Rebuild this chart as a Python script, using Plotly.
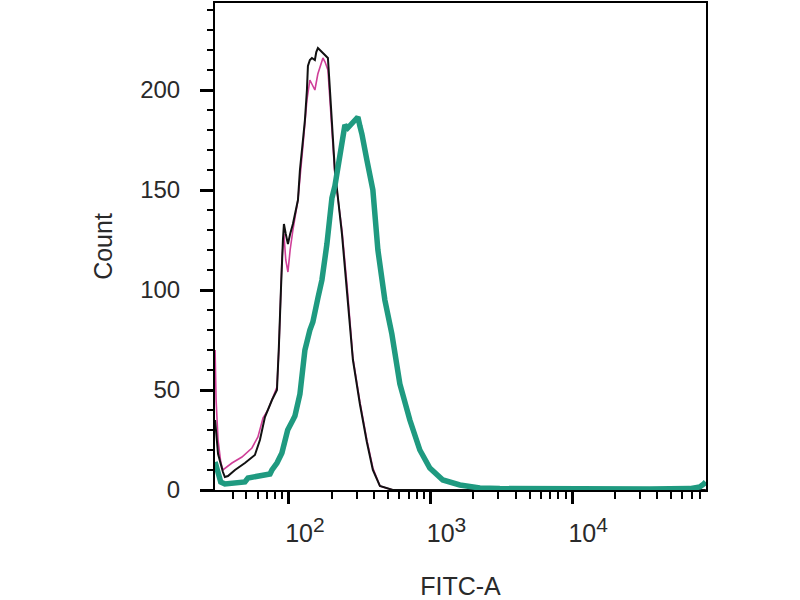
import plotly.graph_objects as go

# FITC-A values and counts
black_x = [30.1, 31.6, 34.2, 35.3, 37.1, 41.6, 48.9, 54.8, 57.5, 62.4, 67.7, 75.9, 82.3, 84.9, 86.4,
           87.8, 90.7, 92.2, 95.0, 98.4, 102.0, 106.7, 115.8, 119.6, 125.6, 129.7, 134.0, 136.2, 140.6,
           145.3, 152.5, 156.0, 160.2, 165.5, 173.8, 179.6, 188.5, 194.8, 211.0, 236.8, 256.8, 283.0,
           317.0, 355.0, 391.5, 438.9, 541.9, 1000, 10000, 87700]
black_y = [35, 18, 9, 6.5, 7, 10, 13.5, 16, 17.5, 25, 36.5, 45, 50, 71.5, 90,
           100, 125, 133, 128, 123, 128, 133, 145, 160, 175, 185, 200, 212, 215,
           216, 215, 219, 221, 220, 218, 217, 216, 200, 160, 128, 101, 65,
           43, 24, 10, 2, 0, 0, 0, 0]

magenta_x = [30.1, 30.6, 31.6, 33.0, 34.2, 39.6, 46.6, 54.8, 60.4, 65.6, 71.1, 77.1, 82.3, 84.9,
             86.4, 89.2, 92.2, 95.0, 98.4, 102.0, 106.7, 115.8, 125.6, 134.0, 140.6, 147.6, 152.5,
             160.0, 167.0, 173.8, 180.0, 188.5, 194.8, 211.0, 236.8, 256.8, 283.0, 317.0, 355.0,
             391.5, 438.9, 541.9, 1000, 10000, 87700]
magenta_y = [70, 45, 25, 14, 10, 13.5, 16.5, 21, 26.5, 36, 40, 46.5, 51.5, 70,
             90, 115, 128, 115, 109, 120, 130, 145, 172, 195, 205, 202, 200,
             208, 212, 216, 214, 210, 195, 158, 130, 103, 66, 44, 25,
             11, 2, 0, 0, 0, 0]

teal_x = [30.1, 31.6, 33.0, 35.3, 41.6, 48.9, 51.4, 64.4, 73.5, 75.9, 82.3, 89.2, 93.7, 98.0,
          106.7, 110.2, 119.6, 125.6, 129.7, 140.6, 147.6, 160.2, 171.0, 185.5, 194.8, 201.2,
          211.2, 218.2, 236.8, 248.5, 260.0, 269.5, 283.0, 306.9, 317.0, 327.6, 355.1, 391.5,
          424.8, 475.7, 533.2, 607.3, 714.3, 840.2, 988.1, 1221, 1611, 2230, 3085, 6950, 35310,
          67700, 79600, 85000, 87700]
teal_y = [14, 8, 4, 3, 3.5, 4, 6, 7.5, 8, 10, 13.5, 18.5, 26, 30,
          35, 37, 48, 60, 70, 80, 84, 96, 105, 123, 135, 146,
          152, 158, 175, 182.5, 181, 182, 184, 186.5, 182, 178, 165, 150,
          120, 95, 78, 53, 35, 20, 11, 5, 2.5, 1, 0.7, 0.5, 0.5,
          0.7, 1.5, 3, 4]

x_major = [100, 1000, 10000]
x_major_text = ["10<sup><span style='font-size:21px'>2</span></sup>",
                "10<sup><span style='font-size:21px'>3</span></sup>",
                "10<sup><span style='font-size:21px'>4</span></sup>"]
x_minor = [30, 40, 50, 60, 70, 80, 90,
           200, 300, 400, 500, 600, 700, 800, 900,
           2000, 3000, 4000, 5000, 6000, 7000, 8000, 9000,
           20000, 30000, 40000, 50000, 60000, 70000, 80000]
y_major = [0, 50, 100, 150, 200]

FONT = "Liberation Sans, Arial, sans-serif"
TXT = "#2a2a2a"

fig = go.Figure()
fig.add_trace(go.Scatter(x=magenta_x, y=magenta_y, mode="lines",
                         line=dict(color="#cf3f98", width=1.6), showlegend=False))
fig.add_trace(go.Scatter(x=black_x, y=black_y, mode="lines",
                         line=dict(color="#111111", width=2), showlegend=False))
fig.add_trace(go.Scatter(x=teal_x, y=teal_y, mode="lines",
                         line=dict(color="#1f9a80", width=5.5), showlegend=False))

fig.update_layout(
    width=800, height=600,
    margin=dict(l=215, r=94, t=3, b=110, autoexpand=False),
    paper_bgcolor="white", plot_bgcolor="white",
    font=dict(family=FONT, color=TXT, size=24),
    xaxis=dict(
        type="log", range=[1.478, 4.945], automargin=False,
        tickmode="array", tickvals=x_major, ticktext=x_major_text,
        ticks="outside", ticklen=12, tickwidth=3, tickcolor="black",
        minor=dict(tickmode="array", tickvals=x_minor, ticks="outside",
                   ticklen=7, tickwidth=2, tickcolor="black", showgrid=False),
        showline=True, linecolor="black", linewidth=2, mirror=True,
        showgrid=False, zeroline=False,
        tickfont=dict(size=25, family=FONT, color=TXT),
        ticklabelshift=16, ticklabelstandoff=8,
        title=dict(text="FITC-A", font=dict(size=25, family=FONT, color=TXT), standoff=36),
    ),
    yaxis=dict(
        range=[0, 243.5], automargin=False,
        tickmode="array", tickvals=y_major,
        ticks="outside", ticklen=13, tickwidth=3, tickcolor="black",
        minor=dict(tickmode="linear", tick0=0, dtick=10, ticks="outside",
                   ticklen=6, tickwidth=2, tickcolor="black", showgrid=False),
        showline=True, linecolor="black", linewidth=2, mirror=True,
        showgrid=False, zeroline=False,
        tickfont=dict(size=24, family=FONT, color=TXT),
        ticklabelstandoff=15,
        title=dict(text="Count", font=dict(size=25, family=FONT, color=TXT), standoff=20),
    ),
)

fig.write_html("out.html", config={"displayModeBar": False},
               post_script="document.body.style.margin='0px';")
